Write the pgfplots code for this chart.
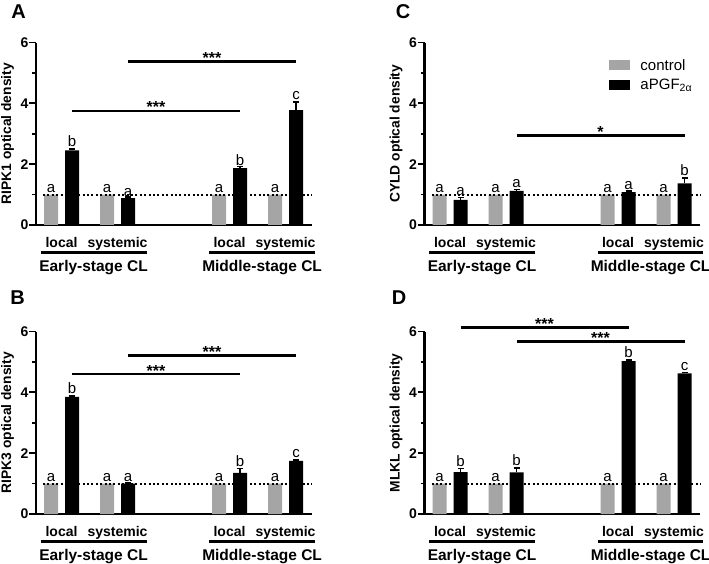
\documentclass[border=0pt]{standalone}
\usepackage{fontspec}
\setmainfont{Liberation Sans}
\usepackage{pgfplots}
\pgfplotsset{compat=1.18}
\usepackage{pgfplotstable}

\definecolor{ctrl}{RGB}{165,165,165}
\newcommand\fs[1]{\fontsize{#1}{#1}\selectfont}

% black bars: x  mean  error
\pgfplotstableread{
x y e
6 2.45 0.05
14 0.88 0.04
30 1.87 0.05
38 3.78 0.27
}\ripka
\pgfplotstableread{
x y e
6 3.85 0.03
14 1.00 0.02
30 1.35 0.15
38 1.75 0.03
}\ripkb
\pgfplotstableread{
x y e
6 0.83 0.08
14 1.12 0.04
30 1.08 0.03
38 1.37 0.18
}\cyld
\pgfplotstableread{
x y e
6 1.38 0.12
14 1.37 0.15
30 5.03 0.03
38 4.62 0.04
}\mlkl

\newcommand\lab[3]{\node[anchor=base, inner sep=0pt, font=\fs{15bp}] at (axis cs:#1,#2) {#3};}
\newcommand\sig[5]{\draw[line width=2.8bp] (axis cs:#1,#3) -- (axis cs:#2,#3);
  \node[anchor=base, inner sep=0pt, font=\fs{16bp}\bfseries, yshift=-2bp] at (axis cs:#4,#3) {#5};}
\newcommand\groups{%
  \node[anchor=base, font=\fs{14bp}\bfseries] at (axis cs:4.5,-0.75) {local};
  \node[anchor=base, font=\fs{14bp}\bfseries] at (axis cs:12.5,-0.75) {systemic};
  \node[anchor=base, font=\fs{14bp}\bfseries] at (axis cs:28.5,-0.75) {local};
  \node[anchor=base, font=\fs{14bp}\bfseries] at (axis cs:36.5,-0.75) {systemic};
  \draw[line width=3bp] (axis cs:1.5,-0.92) -- (axis cs:16.65,-0.92);
  \draw[line width=3bp] (axis cs:25.6,-0.92) -- (axis cs:40.7,-0.92);
  \node[anchor=base, font=\fs{15.5bp}\bfseries] at (axis cs:9.07,-1.53) {Early-stage CL};
  \node[anchor=base, font=\fs{15.5bp}\bfseries] at (axis cs:33.15,-1.53) {Middle-stage CL};
  \draw[line width=2bp, dash pattern=on 2bp off 2.4bp] (axis cs:1.85,1) -- (axis cs:40.3,1);
  \lab{3}{1.07}{a}\lab{11}{1.07}{a}\lab{27}{1.07}{a}\lab{35}{1.07}{a}}

\pgfplotsset{
  panel/.style={
    scale only axis, width=275.8bp, height=182.5bp,
    xmin=0.85, xmax=40.25, ymin=0, ymax=6,
    axis x line*=bottom, axis y line*=left,
    axis line style={line width=2.2bp},
    xtick=\empty, ytick={0,2,4,6}, minor ytick={1,3,5},
    tick align=outside, major tick length=6.5bp, minor tick length=3.5bp,
    every tick/.style={line width=1.7bp, black},
    every minor tick/.style={line width=1.7bp, black},
    /pgf/number format/assume math mode=true,
    yticklabel style={font=\fs{14bp}\bfseries, inner sep=1bp},
    ylabel style={font=\fs{13.8bp}\bfseries, at={(axis description cs:-0.1033,0.5)}, anchor=center},
    clip=false,
  },
  ctrlbars/.style={ybar, bar width=2, bar shift=0pt, fill=ctrl, draw=none,
    legend image code/.code={\fill[ctrl] (0bp,-5bp) rectangle (21bp,5bp);}},
  trtbars/.style={ybar, bar width=2, bar shift=0pt, fill=black, draw=none,
    legend image code/.code={\fill[black] (0bp,-5bp) rectangle (21bp,5bp);},
    error bars/.cd, y dir=plus, y explicit,
    error bar style={line width=1.5bp, black},
    error mark options={rotate=90, mark size=3bp, line width=1.5bp, black}},
}

\begin{document}
\begin{tikzpicture}
\path[use as bounding box] (0,0) rectangle (709bp,564bp);

% A
\begin{axis}[panel, at={(36bp,339bp)}, anchor=south west, ylabel={RIPK1 optical density}]
\addplot[ctrlbars] coordinates {(3,1) (11,1) (27,1) (35,1)};
\addplot[trtbars] table[x=x, y=y, y error=e] {\ripka};
\groups
\lab{6}{2.57}{b}\lab{14}{0.95}{a}\lab{30}{1.95}{b}\lab{38}{4.13}{c}
\sig{6}{30}{3.75}{18}{***}
\sig{14}{38}{5.38}{26}{***}
\end{axis}

% C
\begin{axis}[panel, at={(424.5bp,339bp)}, anchor=south west, ylabel={CYLD optical density},
  legend style={at={(rel axis cs:0.67,0.915)}, anchor=north west, draw=none, fill=none,
    inner sep=0pt, row sep=5bp, column sep=9bp, font=\fs{15bp}, cells={anchor=west},
    nodes={inner sep=1bp}}]
\addplot[ctrlbars] coordinates {(3,1) (11,1) (27,1) (35,1)};
\addlegendentry{control}
\addplot[trtbars] table[x=x, y=y, y error=e] {\cyld};
\addlegendentry{aPGF\textsubscript{2α}}
\groups
\lab{6}{0.98}{a}\lab{14}{1.22}{a}\lab{30}{1.17}{a}\lab{38}{1.62}{b}
\sig{14}{38}{2.93}{26}{*}
\end{axis}

% B
\begin{axis}[panel, at={(36bp,50bp)}, anchor=south west, ylabel={RIPK3 optical density}]
\addplot[ctrlbars] coordinates {(3,1) (11,1) (27,1) (35,1)};
\addplot[trtbars] table[x=x, y=y, y error=e] {\ripkb};
\groups
\lab{6}{3.95}{b}\lab{14}{1.08}{a}\lab{30}{1.56}{b}\lab{38}{1.85}{c}
\sig{6}{30}{4.6}{18}{***}
\sig{14}{38}{5.2}{26}{***}
\end{axis}

% D
\begin{axis}[panel, at={(424.5bp,50bp)}, anchor=south west, ylabel={MLKL optical density}]
\addplot[ctrlbars] coordinates {(3,1) (11,1) (27,1) (35,1)};
\addplot[trtbars] table[x=x, y=y, y error=e] {\mlkl};
\groups
\lab{6}{1.57}{b}\lab{14}{1.59}{b}\lab{30}{5.13}{b}\lab{38}{4.73}{c}
\sig{6}{30}{6.13}{18}{***}
\sig{14}{38}{5.68}{26}{***}
\end{axis}

\node[font=\fs{20bp}\bfseries] at (18.5bp,552.5bp) {A};
\node[font=\fs{20bp}\bfseries] at (403bp,552.3bp) {C};
\node[font=\fs{20bp}\bfseries] at (17.5bp,266.5bp) {B};
\node[font=\fs{20bp}\bfseries] at (399bp,266bp) {D};
\end{tikzpicture}
\end{document}
